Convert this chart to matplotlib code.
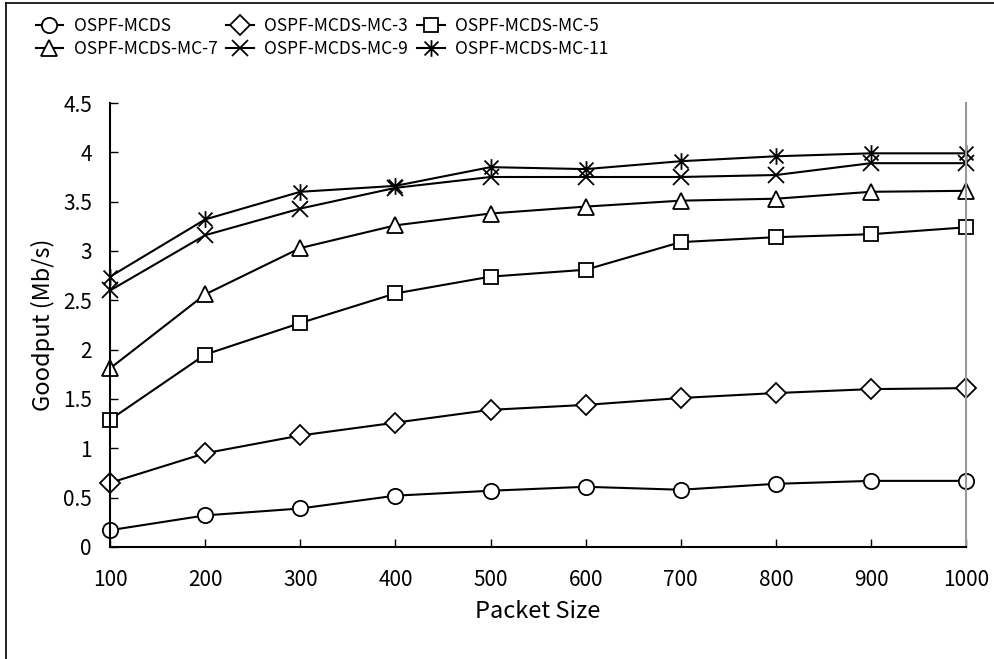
import numpy as np
import matplotlib.pyplot as plt
from matplotlib.path import Path
from matplotlib.lines import Line2D

packet_size = [100, 200, 300, 400, 500, 600, 700, 800, 900, 1000]

mcds = [0.17, 0.32, 0.39, 0.52, 0.57, 0.61, 0.58, 0.64, 0.67, 0.67]
mc3 = [0.65, 0.95, 1.13, 1.26, 1.39, 1.44, 1.51, 1.56, 1.60, 1.61]
mc5 = [1.29, 1.95, 2.27, 2.57, 2.74, 2.81, 3.09, 3.14, 3.17, 3.24]
mc7 = [1.81, 2.56, 3.03, 3.26, 3.38, 3.45, 3.51, 3.53, 3.60, 3.61]
mc9 = [2.60, 3.16, 3.43, 3.64, 3.75, 3.75, 3.75, 3.77, 3.89, 3.89]
mc11 = [2.74, 3.32, 3.60, 3.66, 3.85, 3.83, 3.91, 3.96, 3.99, 3.99]

labels = ['OSPF-MCDS', 'OSPF-MCDS-MC-3', 'OSPF-MCDS-MC-5',
          'OSPF-MCDS-MC-7', 'OSPF-MCDS-MC-9', 'OSPF-MCDS-MC-11']

# excel style asterisk: an X plus a vertical bar
star = Path([(-1, -1), (1, 1), (-1, 1), (1, -1), (0, -1.2), (0, 1.2)],
            [Path.MOVETO, Path.LINETO, Path.MOVETO, Path.LINETO, Path.MOVETO, Path.LINETO])

styles = [('o', 11), ('D', 10), ('s', 10.5), ('^', 11.5), ('x', 11), (star, 12)]

plt.rcParams['font.family'] = ['Noto Sans CJK KR', 'DejaVu Sans']

fig = plt.figure(figsize=(9.95, 6.59), dpi=100)
ax = fig.add_axes([0.1106, 0.170, 0.8604, 0.6737])

handles = []
for vals, lab, (mk, ms) in zip([mcds, mc3, mc5, mc7, mc9, mc11], labels, styles):
    h, = ax.plot(packet_size, vals, color='black', lw=1.5, marker=mk, ms=ms,
                 mfc='white', mec='black', mew=1.3, label=lab, clip_on=False)
    handles.append(h)

ax.set_xlim(100, 1000)
ax.set_ylim(0, 4.5)
ax.set_xticks(packet_size)
ax.set_yticks(np.arange(0, 4.51, 0.5))
ax.set_yticklabels(['0', '0.5', '1', '1.5', '2', '2.5', '3', '3.5', '4', '4.5'])
ax.tick_params(direction='in', length=6, width=1, labelsize=15)
ax.tick_params(axis='y', pad=13)
ax.tick_params(axis='x', pad=16)

ax.spines['top'].set_visible(False)
ax.spines['right'].set_color('#999999')
ax.spines['right'].set_linewidth(1.5)
ax.spines['left'].set_linewidth(1.5)
ax.spines['bottom'].set_linewidth(1.5)

ax.set_xlabel('Packet Size', fontsize=17, labelpad=6)
ax.set_ylabel('Goodput (Mb/s)', fontsize=17, labelpad=6)

# legend is filled row by row in the original
order = [0, 3, 1, 4, 2, 5]
fig.legend([handles[i] for i in order], [labels[i] for i in order],
           ncol=3, frameon=False, fontsize=12.5, loc='upper left',
           bbox_to_anchor=(0.02, 0.998), handlelength=1.6, handletextpad=0.6,
           columnspacing=0.5, labelspacing=0.3)

# outer chart border (left and top only visible)
fig.add_artist(Line2D([0.006, 0.006], [0, 0.996], transform=fig.transFigure, color='black', lw=1.2))
fig.add_artist(Line2D([0.006, 1], [0.996, 0.996], transform=fig.transFigure, color='black', lw=1.2))

fig.savefig('out.png', dpi=100)
